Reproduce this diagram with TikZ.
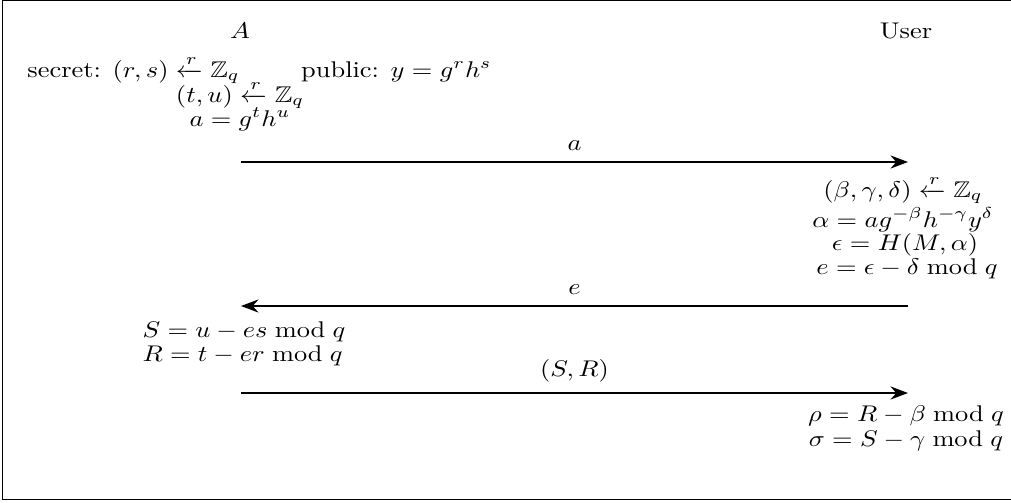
\documentclass[tikz,border=0pt]{standalone}
\usepackage{amsmath}
\usepackage{amssymb}
\usepackage{graphicx}
\usetikzlibrary{positioning,arrows.meta}

% el texto de la figura original es algo mas bajo que ancho
\newcommand{\aplanado}[1]{\scalebox{1}[0.86]{#1}}

\begin{document}
\begin{tikzpicture}[
    x=0.3788pt, y=-0.3788pt,
    paso/.style={
        inner sep=0pt,
        anchor=base
    },
    mensaje/.style={
        ->, thick
    },
    etiqueta/.style={
        inner sep=0pt,
        above=3.8pt
    },
    >=Stealth
]

\useasboundingbox (0,0) rectangle (1011,502);
\draw[line width=0.6pt] (1011,0.5) -- (2.5,0.5) -- (2.5,499.5) -- (1011,499.5);

\node[paso] (alice) at (240,38) {\aplanado{$A$}};
\node[paso] (usuario) at (906,38) {\aplanado{User}};

\node[paso] (claves) at (259.5,77)
{\aplanado{secret: $(r,s) \xleftarrow{r} \mathbb{Z}_q$ \qquad public: $y = g^r h^s$}};
\node[paso] (azar) at (240,102) {\aplanado{$(t,u) \xleftarrow{r} \mathbb{Z}_q$}};
\node[paso] (compromiso) at (240,126) {\aplanado{$a = g^t h^u$}};

\coordinate (a-ini) at (241,162);
\coordinate (a-fin) at (908,162);

\node[paso] (ciego) at (903,197) {\aplanado{$(\beta,\gamma,\delta) \xleftarrow{r} \mathbb{Z}_q$}};
\node[paso] (alfa) at (903,227) {\aplanado{$\alpha = a g^{-\beta} h^{-\gamma} y^{\delta}$}};
\node[paso] (hash) at (905,250) {\aplanado{$\epsilon = H(M,\alpha)$}};
\node[paso] (reto) at (907,274) {\aplanado{$e = \epsilon - \delta \bmod q$}};

\coordinate (e-ini) at (908,306);
\coordinate (e-fin) at (241,306);

\node[paso, anchor=base west] (resp-s) at (142,337) {\aplanado{$S = u - es \bmod q$}};
\node[paso, anchor=base west] (resp-r) at (142,361) {\aplanado{$R = t - er \bmod q$}};

\coordinate (sr-ini) at (241,393);
\coordinate (sr-fin) at (908,393);

\node[paso] (firma-r) at (906,421) {\aplanado{$\rho = R - \beta \bmod q$}};
\node[paso] (firma-s) at (906,446) {\aplanado{$\sigma = S - \gamma \bmod q$}};

\draw[mensaje] (a-ini) -- node[etiqueta] {\aplanado{$a$}} (a-fin);
\draw[mensaje] (e-ini) -- node[etiqueta] {\aplanado{$e$}} (e-fin);
\draw[mensaje] (sr-ini) -- node[etiqueta] {\aplanado{$(S,R)$}} (sr-fin);

\end{tikzpicture}
\end{document}
